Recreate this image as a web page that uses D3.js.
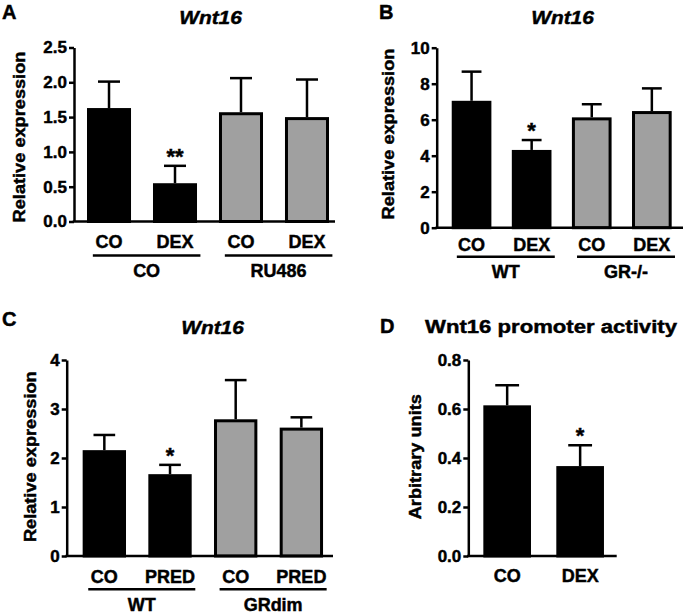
<!DOCTYPE html>
<html><head><meta charset="utf-8">
<script src="https://cdn.jsdelivr.net/npm/d3@7"></script>
<style>
body{margin:0;background:#fff}
text{font-family:"Liberation Sans",Arial,Helvetica,sans-serif;font-weight:bold;fill:#000;stroke:#000;stroke-width:0.45px}
</style>
</head><body>
<svg id="c" width="685" height="614"></svg>
<script>
// ---- Panel A ----
const catsA = ["CO","DEX","CO","DEX"];
const meansA = [1.63, 0.55, 1.57, 1.50];
const semA = [0.38, 0.25, 0.49, 0.54];
const fillA = ["black","black","grey","grey"];
const starsA = ["","**","",""];
const groupsA = ["CO","RU486"];
const ticksA = [0, 0.5, 1.0, 1.5, 2.0, 2.5];
// ---- Panel B ----
const catsB = ["CO","DEX","CO","DEX"];
const meansB = [7.05, 4.32, 6.13, 6.48];
const semB = [1.62, 0.55, 0.73, 1.26];
const fillB = ["black","black","grey","grey"];
const starsB = ["","*","",""];
const groupsB = ["WT","GR-/-"];
const ticksB = [0, 2, 4, 6, 8, 10];
// ---- Panel C ----
const catsC = ["CO","PRED","CO","PRED"];
const meansC = [2.16, 1.67, 2.79, 2.62];
const semC = [0.31, 0.19, 0.80, 0.21];
const fillC = ["black","black","grey","grey"];
const starsC = ["","*","",""];
const groupsC = ["WT","GRdim"];
const ticksC = [0, 1, 2, 3, 4];
// ---- Panel D ----
const catsD = ["CO","DEX"];
const meansD = [0.615, 0.367];
const semD = [0.082, 0.085];
const fillD = ["black","black"];
const starsD = ["","*"];
const groupsD = [];
const ticksD = [0, 0.2, 0.4, 0.6, 0.8];

const colors = {black:"#000000", grey:"#a0a0a0"};
const svg = d3.select("#c");

function txt(g, s, x, y, size, anchor, opts) {
  opts = opts || {};
  const sx = opts.sx || 1;
  const rot = opts.rotate ? " rotate(-90)" : "";
  return g.append("text")
    .attr("transform", `translate(${x},${y})${rot} scale(${sx},1)`)
    .attr("text-anchor", anchor)
    .style("font-size", size + "px")
    .style("font-style", opts.italic ? "italic" : "normal")
    .text(s);
}

function panel(p) {
  const g = svg.append("g");
  const n = p.cats.length;
  const x = d3.scaleBand().domain(d3.range(n)).range(p.band)
    .paddingInner(p.pi).paddingOuter(p.po);
  const y = d3.scaleLinear().domain(p.ydom).range([p.yBottom, p.yTop]);
  const bw = x.bandwidth();
  const sw = 3;

  // bars
  g.selectAll("rect.bar").data(p.means).join("rect")
    .attr("x", (d,i) => x(i) + sw/2)
    .attr("width", bw - sw)
    .attr("y", d => y(d) + sw/2)
    .attr("height", d => y(0) - y(d) - sw/2)
    .attr("fill", (d,i) => colors[p.fill[i]])
    .attr("stroke", "#000").attr("stroke-width", sw);

  // error bars (upper only)
  p.means.forEach((m, i) => {
    const cx = x(i) + bw/2;
    g.append("line").attr("x1", cx).attr("x2", cx)
      .attr("y1", y(m)).attr("y2", y(m + p.sem[i]))
      .attr("stroke", "#000").attr("stroke-width", 2.5);
    g.append("line").attr("x1", cx - bw/4).attr("x2", cx + bw/4)
      .attr("y1", y(m + p.sem[i])).attr("y2", y(m + p.sem[i]))
      .attr("stroke", "#000").attr("stroke-width", 2.5);
    if (p.stars[i]) txt(g, p.stars[i], cx, y(m + p.sem[i]) - 2, 22, "middle");
  });

  // y axis
  const ya = g.append("g").attr("transform", `translate(${p.axisX0},0)`)
    .call(d3.axisLeft(y).tickValues(p.ticks).tickFormat(d3.format(p.fmt))
      .tickSize(5).tickSizeOuter(0).tickPadding(2));
  ya.selectAll("path,line").attr("stroke", "#000").attr("stroke-width", 2.5);
  ya.selectAll("text").attr("fill", "#000").attr("stroke", "#000").attr("stroke-width", 0.45)
    .style("font-family", '"Liberation Sans",Arial,sans-serif')
    .style("font-weight", "bold").style("font-size", "17px");

  // x axis line
  g.append("line").attr("x1", p.axisX0 - 1.25).attr("x2", p.axisX1)
    .attr("y1", y(0)).attr("y2", y(0))
    .attr("stroke", "#000").attr("stroke-width", 2.5);

  // x tick labels
  p.cats.forEach((c, i) => txt(g, c, x(i) + bw/2, p.tickLabelY, 18, "middle"));

  // groups
  const step = x.step();
  p.groups.forEach((gr, k) => {
    const c0 = x(2*k) + bw/2, c1 = x(2*k+1) + bw/2;
    const x0 = c0 - 0.245*step, x1 = c1 + 0.385*step;
    g.append("line").attr("x1", x0).attr("x2", x1)
      .attr("y1", p.groupLineY).attr("y2", p.groupLineY)
      .attr("stroke", "#000").attr("stroke-width", 2.5);
    txt(g, gr, (x0 + x1)/2, p.groupLabelY, 18, "middle");
  });

  // titles
  txt(g, p.title, p.titleX, p.titleY, 19, "middle", {italic: p.italic, sx: p.titleSx});
  txt(g, p.letter, p.letterX, p.letterY, 20, "start");
  txt(g, p.ytitle, p.ytitleX, p.ytitleY, 17, "middle", {rotate: true, sx: 1.07});
}

panel({cats: catsA, means: meansA, sem: semA, fill: fillA, stars: starsA, groups: groupsA,
  ticks: ticksA, fmt: ".1f", ydom: [0, 2.5], yTop: 47.5, yBottom: 221.5,
  band: [74, 342], pi: 0.333, po: 0.197, axisX0: 74, axisX1: 335,
  tickLabelY: 247.5, groupLineY: 255.5, groupLabelY: 277.3,
  title: "Wnt16", italic: true, titleSx: 1.1, titleX: 210.5, titleY: 24.3,
  letter: "A", letterX: 2, letterY: 19,
  ytitle: "Relative expression", ytitleX: 25, ytitleY: 137});

panel({cats: catsB, means: meansB, sem: semB, fill: fillB, stars: starsB, groups: groupsB,
  ticks: ticksB, fmt: "d", ydom: [0, 10], yTop: 47.7, yBottom: 227.7,
  band: [436.7, 686.7], pi: 0.34, po: 0.25, axisX0: 436.7, axisX1: 683,
  tickLabelY: 250.7, groupLineY: 256.7, groupLabelY: 278.3,
  title: "Wnt16", italic: true, titleSx: 1.1, titleX: 562.5, titleY: 24,
  letter: "B", letterX: 379, letterY: 19,
  ytitle: "Relative expression", ytitleX: 394, ytitleY: 134});

panel({cats: catsC, means: meansC, sem: semC, fill: fillC, stars: starsC, groups: groupsC,
  ticks: ticksC, fmt: "d", ydom: [0, 4], yTop: 360, yBottom: 556,
  band: [66.7, 339], pi: 0.34, po: 0.243, axisX0: 66.7, axisX1: 333,
  tickLabelY: 582.7, groupLineY: 589.3, groupLabelY: 611,
  title: "Wnt16", italic: true, titleSx: 1.1, titleX: 212.5, titleY: 334.3,
  letter: "C", letterX: 2, letterY: 326,
  ytitle: "Relative expression", ytitleX: 35.6, ytitleY: 456.7});

panel({cats: catsD, means: meansD, sem: semD, fill: fillD, stars: starsD, groups: groupsD,
  ticks: ticksD, fmt: ".1f", ydom: [0, 0.8], yTop: 360, yBottom: 556,
  band: [468.3, 619], pi: 0.347, po: 0.206, axisX0: 468.3, axisX1: 616.7,
  tickLabelY: 581.7, groupLineY: 0, groupLabelY: 0,
  title: "Wnt16 promoter activity", italic: false, titleSx: 1.165, titleX: 551, titleY: 333.3,
  letter: "D", letterX: 380, letterY: 333.3,
  ytitle: "Arbitrary units", ytitleX: 420.5, ytitleY: 456.7});
</script>
</body></html>
